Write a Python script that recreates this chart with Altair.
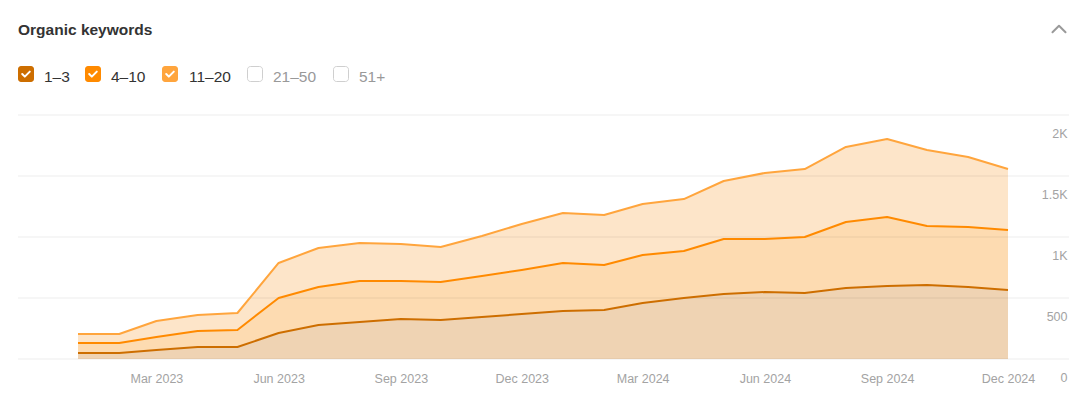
import altair as alt
import pandas as pd

# ---------------- data ----------------
months = [
    "2023-01-01", "2023-02-01", "2023-03-01", "2023-04-01", "2023-05-01", "2023-06-01",
    "2023-07-01", "2023-08-01", "2023-09-01", "2023-10-01", "2023-11-01", "2023-12-01",
    "2024-01-01", "2024-02-01", "2024-03-01", "2024-04-01", "2024-05-01", "2024-06-01",
    "2024-07-01", "2024-08-01", "2024-09-01", "2024-10-01", "2024-11-01", "2024-12-01",
]
series_names = ["1–3", "4–10", "11–20"]
kw_1_3 = [49, 49, 74, 98, 98, 213, 279, 303, 328, 320, 344, 369,
          393, 402, 459, 500, 533, 549, 541, 582, 598, 607, 590, 566]
kw_4_10 = [82, 82, 106, 132, 140, 287, 311, 336, 311, 311, 336, 361,
           394, 368, 393, 385, 451, 435, 459, 541, 566, 483, 492, 491]
kw_11_20 = [74, 74, 131, 131, 139, 287, 320, 312, 304, 287, 328, 377,
            410, 410, 419, 426, 475, 541, 557, 615, 639, 623, 574, 500]

legend_labels = ["1–3", "4–10", "11–20", "21–50", "51+"]
legend_checked = [True, True, True, False, False]

y_ticks = [0, 500, 1000, 1500, 2000]
x_tick_months = [(2023, 3), (2023, 6), (2023, 9), (2023, 12),
                 (2024, 3), (2024, 6), (2024, 9), (2024, 12)]

title_text = "Organic keywords"

# ---------------- styles ----------------
FONT = "Liberation Sans, Arial, Helvetica, sans-serif"
line_colors = ["#cd6e00", "#ff8a00", "#ffa53d"]
fill_colors = ["#efd3b3", "#fddbb1", "#fde5c9"]
box_colors = line_colors + ["#ffffff", "#ffffff"]
AXIS_GRAY = "#a3a3a3"

rows = []
for rank, (name, vals) in enumerate(zip(series_names, [kw_1_3, kw_4_10, kw_11_20])):
    for m, v in zip(months, vals):
        rows.append({"date": m, "series": name, "value": v, "rank": rank})
df = pd.DataFrame(rows)

x_enc = alt.X(
    "date:T",
    title=None,
    scale=alt.Scale(
        type="utc",
        domain=[alt.DateTime(year=2022, month=11, date=16, hours=20, utc=True),
                alt.DateTime(year=2025, month=1, date=15, hours=22, utc=True)],
    ),
    axis=alt.Axis(
        values=[alt.DateTime(year=y, month=m, date=1, utc=True) for y, m in x_tick_months],
        format="%b %Y",
        grid=False, domain=False, ticks=False, tickSize=0,
        labelPadding=23, labelBaseline="alphabetic", labelFlush=False,
        labelColor=AXIS_GRAY, labelFont=FONT, labelFontSize=12.5,
    ),
)

y_axis = alt.Axis(
    orient="right", values=y_ticks, grid=False, domain=False, ticks=False, tickSize=0,
    labelAlign="right", labelBaseline="alphabetic", labelOffset=22, labelPadding=-2,
    labelFlush=False, labelColor=AXIS_GRAY, labelFont=FONT, labelFontSize=12.5,
    labelExpr="replace(format(datum.value, '~s'), 'k', 'K')",
)
y_scale = alt.Scale(domain=[0, 2000], nice=False, zero=True)

base = alt.Chart(df).transform_stack(
    stack="value", groupby=["date"], as_=["y0", "y1"],
    sort=[alt.SortField("rank", order="ascending")],
)

areas = base.mark_area(opacity=1).encode(
    x=x_enc,
    y=alt.Y("y1:Q", scale=y_scale, axis=y_axis, title=None),
    y2="y0:Q",
    fill=alt.Fill("series:N", scale=alt.Scale(domain=series_names, range=fill_colors), legend=None),
)

grid = alt.Chart(pd.DataFrame({"v": y_ticks})).mark_rule(
    color="#000000", opacity=0.075, strokeWidth=1
).encode(y=alt.Y("v:Q", scale=y_scale, axis=y_axis, title=None))

lines = base.mark_line(strokeWidth=2, strokeJoin="round").encode(
    x=x_enc,
    y=alt.Y("y1:Q", scale=y_scale, axis=y_axis, title=None),
    stroke=alt.Stroke("series:N", scale=alt.Scale(domain=series_names, range=line_colors), legend=None),
)

one = pd.DataFrame({"t": [0]})

title = alt.Chart(one).mark_text(
    text=title_text, font=FONT, fontSize=15.5, fontWeight="bold", color="#333333",
    align="left", baseline="alphabetic",
).encode(x=alt.value(0), y=alt.value(-80))

chevron = alt.Chart(one).mark_point(
    shape="M-1,0.5L0,-0.5L1,0.5", filled=False, stroke="#9a9a9a", strokeWidth=2,
    size=170, strokeCap="round", strokeJoin="round", opacity=1,
).encode(x=alt.value(1041), y=alt.value(-86))

legend_layers = []
box_left = [0, 67, 144, 229, 315]
text_left = [26, 93, 171, 255, 341]
for lab, chk, col, bx, tx in zip(legend_labels, legend_checked, box_colors, box_left, text_left):
    if chk:
        box = alt.Chart(one).mark_rect(fill=col, cornerRadius=3).encode(
            x=alt.value(bx), x2=alt.value(bx + 16), y=alt.value(-49), y2=alt.value(-33))
        check = alt.Chart(one).mark_point(
            shape="M-0.8,0L-0.25,0.55L0.8,-0.5", filled=False, stroke="white", strokeWidth=2,
            size=90, strokeCap="round", strokeJoin="round", opacity=1,
        ).encode(x=alt.value(bx + 8), y=alt.value(-41))
        legend_layers += [box, check]
    else:
        box = alt.Chart(one).mark_rect(fill="white", stroke="#cfcfcf", strokeWidth=1, cornerRadius=3).encode(
            x=alt.value(bx + 0.5), x2=alt.value(bx + 15.5), y=alt.value(-48.5), y2=alt.value(-33.5))
        legend_layers.append(box)
    txt = alt.Chart(one).mark_text(
        text=lab, font=FONT, fontSize=15.5, color="#333333" if chk else "#999999",
        align="left", baseline="alphabetic",
    ).encode(x=alt.value(tx), y=alt.value(-33))
    legend_layers.append(txt)

chart = alt.layer(areas, grid, lines, title, chevron, *legend_layers).properties(
    width=1051, height=244,
    autosize=alt.AutoSizeParams(type="none"),
    padding={"left": 10, "top": 107, "right": 6, "bottom": 27},
    background="white",
).configure_view(strokeWidth=0, stroke="transparent")

chart.save("out.html", embed_options={"renderer": "svg", "actions": False})
